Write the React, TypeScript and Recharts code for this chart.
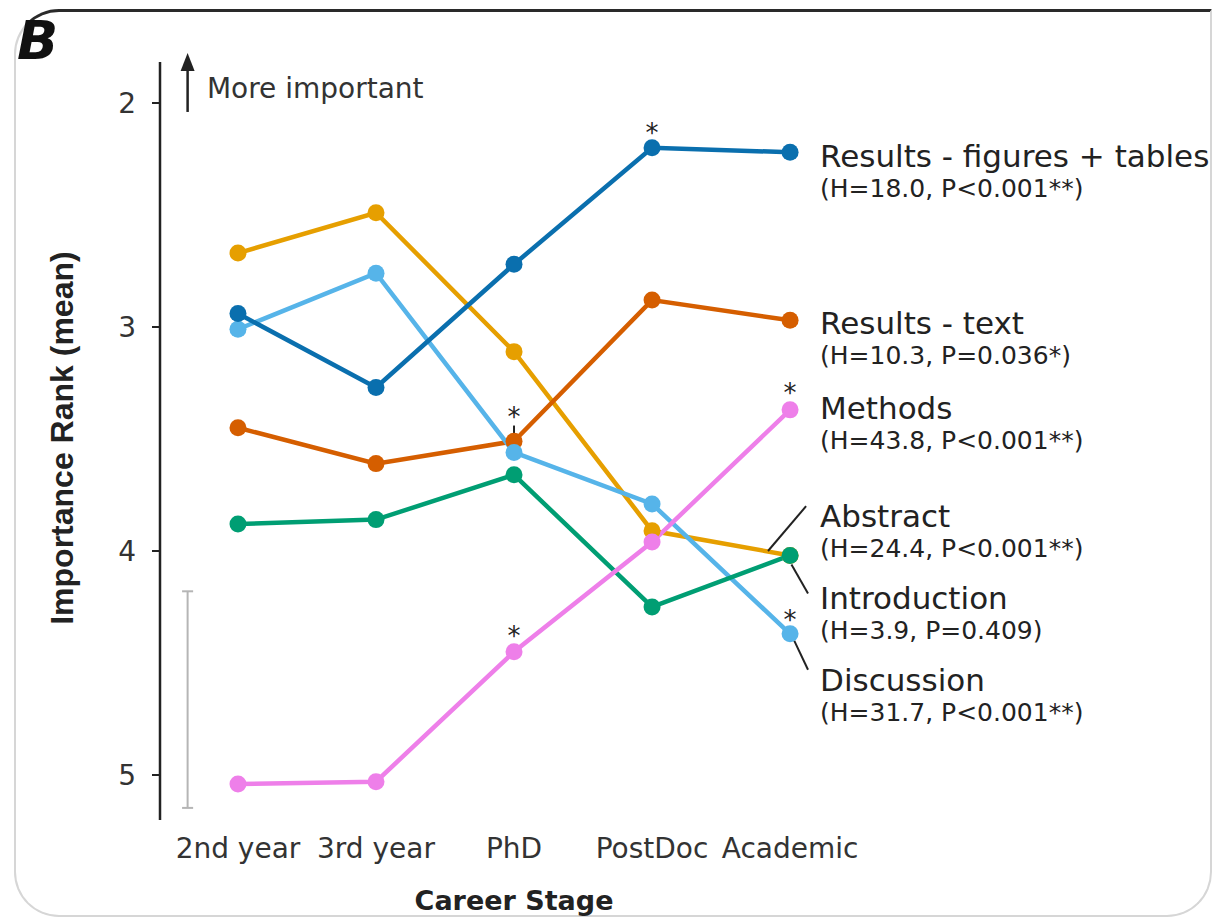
import React from 'react';
import { ComposedChart, Line, XAxis, YAxis, ReferenceLine, ReferenceDot } from 'recharts';

const stages = ['2nd year', '3rd year', 'PhD', 'PostDoc', 'Academic'];
const rankTicks = [2, 3, 4, 5];

// mean importance rank per career stage (lower rank = more important)
const resultsFigures = [2.94, 3.27, 2.72, 2.2, 2.22];
const resultsText = [3.45, 3.61, 3.51, 2.88, 2.97];
const methods = [5.04, 5.03, 4.45, 3.96, 3.37];
const abstract = [2.67, 2.49, 3.11, 3.91, 4.02];
const introduction = [3.88, 3.86, 3.66, 4.25, 4.02];
const discussion = [3.01, 2.76, 3.56, 3.79, 4.37];

// right-hand labels, top to bottom
const labelKeys = ['resultsFigures', 'resultsText', 'methods', 'abstract', 'introduction', 'discussion'];
const labelNames = ['Results - figures + tables', 'Results - text', 'Methods', 'Abstract', 'Introduction', 'Discussion'];
const labelStats = [
  '(H=18.0, P<0.001**)',
  '(H=10.3, P=0.036*)',
  '(H=43.8, P<0.001**)',
  '(H=24.4, P<0.001**)',
  '(H=3.9, P=0.409)',
  '(H=31.7, P<0.001**)',
];

// stage-wise significant differences (asterisks)
const sigKeys = ['resultsFigures', 'discussion', 'methods', 'methods', 'discussion'];
const sigStages = [3, 2, 2, 4, 4];

const values: Record<string, number[]> = { resultsFigures, resultsText, methods, abstract, introduction, discussion };
const drawOrder = ['abstract', 'resultsText', 'discussion', 'introduction', 'methods', 'resultsFigures'];

const COLORS: Record<string, string> = {
  resultsFigures: '#0a6fae',
  resultsText: '#d55e00',
  methods: '#ee7fe9',
  abstract: '#e69f00',
  introduction: '#009e73',
  discussion: '#56b4e9',
};

// layout (data units)
const X0 = -0.565;
const X1 = 6.97;
const Y0 = 1.817;
const Y1 = 5.201;
const LABEL_X = 4.217;
const LABEL_BASE = [2.286, 3.031, 3.411, 3.893, 4.259, 4.625];
const STAR_LIFT = [20, 40, 21, 22, 19];
const SIDE_X = -0.365;
const LEADERS = [
  [[2, 3.44], [2, 3.55]],
  [[3.84, 4.0], [4.116, 3.8]],
  [[4.01, 4.06], [4.13, 4.19]],
  [[4.03, 4.4], [4.13, 4.53]],
];

const SANS = '"DejaVu Sans", sans-serif';
const INK = '#222';

const rows = stages.map((s, i) => {
  const r: Record<string, number | string> = { x: i, stage: s };
  for (const k of labelKeys) r[k] = values[k][i];
  return r;
});

export default function App() {
  return (
    <div style={{ position: 'absolute', left: 0, top: 0, width: 1216, height: 921, background: '#fff', overflow: 'hidden' }}>
      <div
        style={{
          position: 'absolute',
          left: 14,
          top: 9,
          width: 1198,
          height: 908,
          boxSizing: 'border-box',
          border: '2px solid #d6d6d6',
          borderTop: '3px solid #2a2a2a',
          borderRadius: '45px 0 45px 45px',
        }}
      />
      <div
        style={{
          position: 'absolute',
          left: 17,
          top: 14,
          fontFamily: SANS,
          fontWeight: 900,
          fontStyle: 'italic',
          fontSize: 54,
          lineHeight: '54px',
          color: '#111',
        }}
      >
        B
      </div>
      <div style={{ position: 'absolute', left: 0, top: 0 }}>
        <ComposedChart width={1216} height={921} data={rows} margin={{ top: 62, right: 16, bottom: 41, left: 100 }}>
          <XAxis
            type="number"
            dataKey="x"
            domain={[X0, X1]}
            ticks={[0, 1, 2, 3, 4]}
            interval={0}
            allowDataOverflow
            tickFormatter={(v: number) => stages[v] ?? ''}
            axisLine={false}
            tickLine={false}
            tickSize={0}
            tickMargin={18}
            height={60}
            tick={{ fill: '#333', fontSize: 28, fontFamily: SANS }}
          />
          <YAxis
            type="number"
            reversed
            domain={[Y0, Y1]}
            ticks={rankTicks}
            allowDataOverflow
            width={60}
            axisLine={{ stroke: INK, strokeWidth: 2.5 }}
            tickLine={{ stroke: INK, strokeWidth: 2 }}
            tickSize={8}
            tickMargin={16}
            tick={{ fill: '#333', fontSize: 28, fontFamily: SANS }}
          />

          {/* spread bar and "more important" arrow beside the axis */}
          <ReferenceLine segment={[{ x: SIDE_X, y: 4.18 }, { x: SIDE_X, y: 5.147 }]} stroke="#b5b5b5" strokeWidth={2} ifOverflow="visible" />
          <ReferenceLine segment={[{ x: SIDE_X - 0.04, y: 4.18 }, { x: SIDE_X + 0.04, y: 4.18 }]} stroke="#b5b5b5" strokeWidth={2} ifOverflow="visible" />
          <ReferenceLine segment={[{ x: SIDE_X - 0.04, y: 5.147 }, { x: SIDE_X + 0.04, y: 5.147 }]} stroke="#b5b5b5" strokeWidth={2} ifOverflow="visible" />
          <ReferenceLine segment={[{ x: SIDE_X, y: 2.04 }, { x: SIDE_X, y: 1.85 }]} stroke={INK} strokeWidth={2.5} ifOverflow="visible" />
          <ReferenceDot
            x={SIDE_X}
            y={1.777}
            ifOverflow="visible"
            shape={(p: any) => <path d={`M${p.cx},${p.cy} l-7,18 l14,0 z`} fill={INK} />}
          />
          <ReferenceDot
            x={-0.225}
            y={1.978}
            ifOverflow="visible"
            shape={(p: any) => (
              <text x={p.cx} y={p.cy} fill="#333" fontSize={28} fontFamily={SANS}>
                More important
              </text>
            )}
          />

          {drawOrder.map((k) => (
            <Line
              key={k}
              type="linear"
              dataKey={k}
              stroke={COLORS[k]}
              strokeWidth={4.5}
              dot={{ r: 8.5, fill: COLORS[k], stroke: COLORS[k], strokeWidth: 0 }}
              activeDot={false}
              isAnimationActive={false}
            />
          ))}

          {LEADERS.map((seg, i) => (
            <ReferenceLine
              key={`lead-${i}`}
              segment={[{ x: seg[0][0], y: seg[0][1] }, { x: seg[1][0], y: seg[1][1] }]}
              stroke={INK}
              strokeWidth={2}
              ifOverflow="visible"
            />
          ))}

          {sigKeys.map((k, i) => (
            <ReferenceDot
              key={`sig-${i}`}
              x={sigStages[i]}
              y={values[k][sigStages[i]]}
              ifOverflow="visible"
              shape={(p: any) => (
                <text x={p.cx} y={p.cy - STAR_LIFT[i] + 14} textAnchor="middle" fill={INK} fontSize={26} fontFamily={SANS}>
                  *
                </text>
              )}
            />
          ))}

          {labelNames.map((name, i) => (
            <ReferenceDot
              key={`lab-${i}`}
              x={LABEL_X}
              y={LABEL_BASE[i]}
              ifOverflow="visible"
              shape={(p: any) => (
                <g fontFamily={SANS} fill={INK}>
                  <text x={p.cx} y={p.cy} fontSize={31}>
                    {name}
                  </text>
                  <text x={p.cx} y={p.cy + 30} fontSize={25}>
                    {labelStats[i]}
                  </text>
                </g>
              )}
            />
          ))}

          {/* axis titles */}
          <ReferenceDot
            x={-1.196}
            y={3.496}
            ifOverflow="visible"
            shape={(p: any) => (
              <text
                x={p.cx}
                y={p.cy}
                transform={`rotate(-90 ${p.cx} ${p.cy})`}
                textAnchor="middle"
                fill={INK}
                fontSize={32}
                fontWeight="bold"
                fontFamily='"Liberation Sans", Arial, sans-serif'
              >
                Importance Rank (mean)
              </text>
            )}
          />
          <ReferenceDot
            x={2}
            y={5.603}
            ifOverflow="visible"
            shape={(p: any) => (
              <text x={p.cx} y={p.cy} textAnchor="middle" fill={INK} fontSize={27} fontWeight="bold" fontFamily={SANS}>
                Career Stage
              </text>
            )}
          />
        </ComposedChart>
      </div>
    </div>
  );
}
